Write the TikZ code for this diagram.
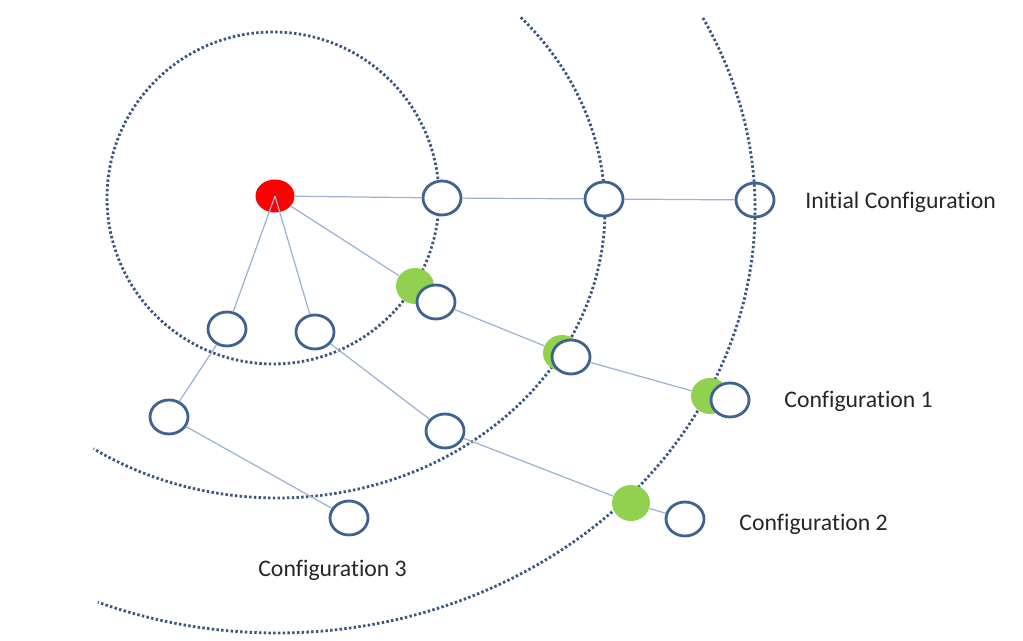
\documentclass[tikz,border=0pt]{standalone}
\usepackage{fontspec}
\setmainfont{Carlito}[Ligatures=NoCommon]
\usetikzlibrary{shapes.geometric}

\definecolor{ringblue}{HTML}{3A5780}
\definecolor{nodeblue}{HTML}{3F628E}
\definecolor{edgeblue}{HTML}{9AB2D4}
\definecolor{startred}{HTML}{FF0000}
\definecolor{hopgreen}{HTML}{92D050}

\begin{document}
\begin{tikzpicture}[
  ring/.style={color=ringblue, line width=1.6pt, dash pattern=on 1.4pt off 1.3pt},
  hop/.style={ellipse, draw=nodeblue, line width=1.6pt, fill=white, minimum width=0.76cm, minimum height=0.68cm, inner sep=0pt},
  moved/.style={ellipse, fill=hopgreen, minimum width=0.76cm, minimum height=0.72cm, inner sep=0pt},
  link/.style={edgeblue, line width=0.7pt},
  config/.style={anchor=base west, inner sep=0pt, text=black!85, font=\fontsize{13.5}{16}\selectfont}
]
\useasboundingbox (0,0) rectangle (20.46,12.82);
% dotted rings
\coordinate (ringctr) at (5.54,8.62);
\draw[ring] (5.46,8.86) circle (3.32);
\draw[ring] (ringctr) ++(42:6.56 and 5.76) arc[start angle=42, end angle=-124, x radius=6.56, y radius=5.76];
\draw[ring] (ringctr) ++(27:9.56 and 8.46) arc[start angle=27, end angle=-112, x radius=9.56, y radius=8.46];
% nodes
\node[ellipse, fill=startred, minimum width=0.78cm, minimum height=0.66cm, inner sep=0pt] (src) at (5.50,8.90) {};
\node[hop] (a) at (8.84,8.86) {};
\node[hop] (b) at (12.08,8.84) {};
\node[hop, fill=none] (c) at (15.10,8.82) {};
\node[moved] (g1) at (8.30,7.10) {};
\node[hop] (w1) at (8.72,6.78) {};
\node[moved] (g2) at (11.24,5.76) {};
\node[hop] (w2) at (11.42,5.68) {};
\node[moved] (g3) at (14.20,4.90) {};
\node[hop] (w3) at (14.60,4.82) {};
\node[hop] (l1) at (4.54,6.24) {};
\node[hop] (l2) at (6.30,6.18) {};
\node[hop] (d) at (3.38,4.48) {};
\node[hop] (e) at (8.90,4.20) {};
\node[hop] (f) at (6.98,2.46) {};
\node[moved] (g4) at (12.62,2.76) {};
\node[hop] (w4) at (13.70,2.44) {};
% links
\draw[link] (src) -- (a);
\draw[link] (a) -- (b);
\draw[link] (b) -- (c);
\draw[link] (src) -- (g1);
\draw[link] (w1) -- (g2);
\draw[link] (w2) -- (g3);
\draw[link] (src.center) -- (l1);
\draw[link] (src.center) -- (l2);
\draw[link] (l1) -- (d);
\draw[link] (d) -- (f);
\draw[link] (l2) -- (e);
\draw[link] (e) -- (g4);
\draw[link] (g4) -- (w4);
% labels
\node[config] (init) at (16.10,8.64) {Initial Configuration};
\node[config] (conf1) at (15.68,4.66) {Configuration 1};
\node[config] (conf2) at (14.78,2.20) {Configuration 2};
\node[config] (conf3) at (5.16,1.28) {Configuration 3};
\end{tikzpicture}
\end{document}
